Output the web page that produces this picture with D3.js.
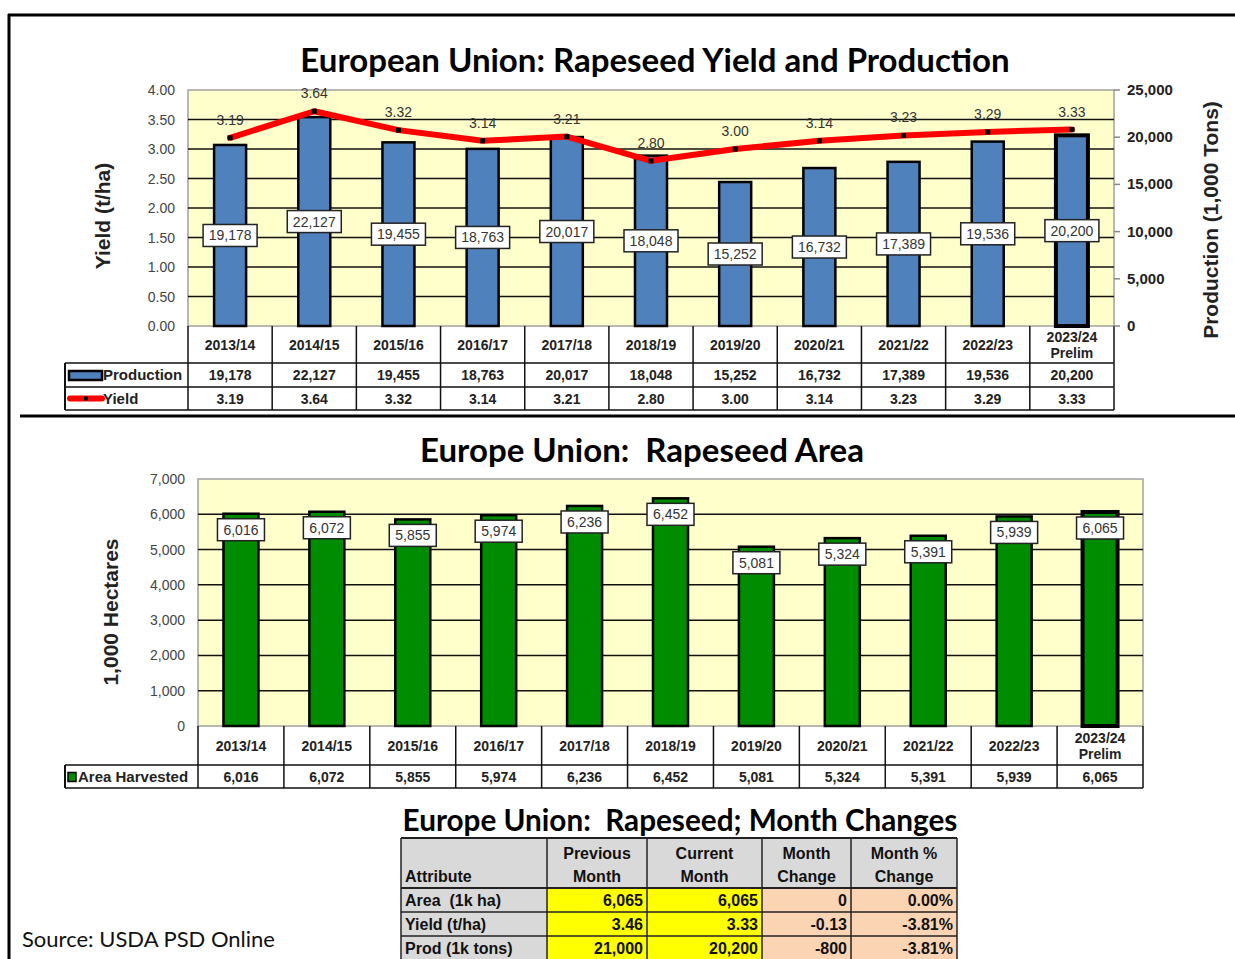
<!DOCTYPE html>
<html>
<head>
<meta charset="utf-8">
<script src="https://cdn.jsdelivr.net/npm/d3@7"></script>
<style>
  body { margin: 0; background: #fff; }
  svg { display: block; }
  text { white-space: pre; }
</style>
</head>
<body>
<div id="chart"></div>
<script>
var seasons = ["2013/14", "2014/15", "2015/16", "2016/17", "2017/18", "2018/19", "2019/20", "2020/21", "2021/22", "2022/23", "2023/24"]
var production = [19178, 22127, 19455, 18763, 20017, 18048, 15252, 16732, 17389, 19536, 20200]
var yieldVals = [3.19, 3.64, 3.32, 3.14, 3.21, 2.80, 3.00, 3.14, 3.23, 3.29, 3.33]
var area = [6016, 6072, 5855, 5974, 6236, 6452, 5081, 5324, 5391, 5939, 6065]
var yieldTicks = [0, 0.5, 1, 1.5, 2, 2.5, 3, 3.5, 4]
var prodTicks = [0, 5000, 10000, 15000, 20000, 25000]
var areaTicks = [0, 1000, 2000, 3000, 4000, 5000, 6000, 7000]

// month changes table
var attributes = ["Area  (1k ha)", "Yield (t/ha)", "Prod (1k tons)"]
var prevMonth = [6065, 3.46, 21000]
var currMonth = [6065, 3.33, 20200]
var monthChange = [0, -0.13, -800]
var monthPct = [0.00, -3.81, -3.81]
var rowFormats = [",", ".2f", ","]

var W = 1235, H = 959
var arial = "'Liberation Sans', Arial, sans-serif"
var calibri = "Lato, 'Open Sans', sans-serif"

var svg = d3.select("#chart").append("svg").attr("width", W).attr("height", H)

function fmt(f, v) { return d3.format(f)(v).replace("\u2212", "-") }

// outer frame + divider
svg.append("line").attr("x1", 8).attr("x2", W).attr("y1", 15).attr("y2", 15).attr("stroke", "#000").attr("stroke-width", 3)
svg.append("line").attr("x1", 9).attr("x2", 9).attr("y1", 14).attr("y2", H).attr("stroke", "#000").attr("stroke-width", 3)
svg.append("line").attr("x1", 20).attr("x2", W).attr("y1", 416).attr("y2", 416).attr("stroke", "#000").attr("stroke-width", 3)

// generic bar chart with data table underneath
function drawChart(opt) {
    var g = svg.append("g")
    var x = d3.scaleBand().domain(seasons).range([opt.left, opt.right])
    var y = d3.scaleLinear().domain(opt.domain).range([opt.bottom, opt.top])

    g.append("text").attr("x", opt.titleX).attr("y", opt.titleY)
        .attr("text-anchor", "middle").style("font-family", calibri).style("font-weight", "bold")
        .style("font-size", opt.titleSize + "px").text(opt.title)

    g.append("rect").attr("x", opt.left).attr("y", opt.top)
        .attr("width", opt.right - opt.left).attr("height", opt.bottom - opt.top)
        .attr("fill", "#FFFFCC").attr("stroke", "#a0a0a0").attr("stroke-width", 1.5)

    // gridlines
    g.selectAll(".grid").data(opt.ticks.filter(function(t) { return t > opt.domain[0] && t < opt.domain[1] }))
        .enter().append("line")
        .attr("x1", opt.left).attr("x2", opt.right)
        .attr("y1", function(d) { return y(d) }).attr("y2", function(d) { return y(d) })
        .attr("stroke", "#111").attr("stroke-width", 1.5)

    // left axis labels
    g.selectAll(".ylab").data(opt.ticks).enter().append("text")
        .attr("x", opt.left - 13).attr("y", function(d) { return y(d) + 5 })
        .attr("text-anchor", "end").style("font-family", arial).style("font-size", "14px")
        .attr("fill", "#444").text(function(d) { return fmt(opt.tickFormat, d) })

    g.append("text").attr("transform", "translate(" + opt.yTitleX + "," + opt.yTitleY + ") rotate(-90)")
        .attr("text-anchor", "middle").style("font-family", arial).style("font-weight", "bold")
        .style("font-size", "21px").attr("fill", "#222").text(opt.yTitle)

    var bw = opt.barWidth
    g.selectAll(".bar").data(opt.values).enter().append("rect")
        .attr("x", function(d, i) { return x(seasons[i]) + x.bandwidth() / 2 - bw / 2 })
        .attr("y", function(d) { return y(opt.toAxis(d)) })
        .attr("width", bw).attr("height", function(d) { return opt.bottom - y(opt.toAxis(d)) })
        .attr("fill", opt.color).attr("stroke", "#000")
        .attr("stroke-width", function(d, i) { return i == seasons.length - 1 ? 4 : 2.5 })

    // value boxes
    var lab = g.selectAll(".lab").data(opt.values).enter().append("g")
        .attr("transform", function(d, i) {
            return "translate(" + (x(seasons[i]) + x.bandwidth() / 2) + "," + opt.labelY(y(opt.toAxis(d))) + ")"
        })
    lab.append("rect").attr("x", -opt.boxW / 2).attr("y", -11).attr("width", opt.boxW).attr("height", 22)
        .attr("fill", "#fff").attr("stroke", "#222").attr("stroke-width", 1.5)
    lab.append("text").attr("y", 5).attr("text-anchor", "middle")
        .style("font-family", arial).style("font-size", "14px").attr("fill", "#333")
        .text(function(d) { return d3.format(",")(d) })

    // data table
    var rowY = opt.rowY
    var cols = seasons.map(function(s) { return x(s) }).concat([opt.right])
    g.selectAll(".vline").data(cols).enter().append("line")
        .attr("x1", function(d) { return d }).attr("x2", function(d) { return d })
        .attr("y1", opt.bottom).attr("y2", rowY[rowY.length - 1])
        .attr("stroke", "#111").attr("stroke-width", 1.5)
    g.append("line").attr("x1", opt.legendLeft).attr("x2", opt.legendLeft)
        .attr("y1", rowY[1]).attr("y2", rowY[rowY.length - 1]).attr("stroke", "#111").attr("stroke-width", 2)
    rowY.slice(1).forEach(function(ry) {
        g.append("line").attr("x1", opt.legendLeft).attr("x2", opt.right)
            .attr("y1", ry).attr("y2", ry).attr("stroke", "#111").attr("stroke-width", 1.5)
    })
    g.selectAll(".cat").data(seasons).enter().append("text")
        .attr("x", function(d) { return x(d) + x.bandwidth() / 2 })
        .attr("y", function(d, i) { return i == seasons.length - 1 ? (rowY[0] + rowY[1]) / 2 - 3 : (rowY[0] + rowY[1]) / 2 + 5 })
        .attr("text-anchor", "middle").style("font-family", arial).style("font-weight", "bold")
        .style("font-size", "14px").attr("fill", "#222").text(function(d) { return d })
    g.append("text").attr("x", x(seasons[10]) + x.bandwidth() / 2).attr("y", (rowY[0] + rowY[1]) / 2 + 13)
        .attr("text-anchor", "middle").style("font-family", arial).style("font-weight", "bold")
        .style("font-size", "14px").attr("fill", "#222").text("Prelim")

    opt.rows.forEach(function(r, k) {
        var cy = (rowY[k + 1] + rowY[k + 2]) / 2 + 5
        g.selectAll(".cell" + k).data(r.values).enter().append("text")
            .attr("x", function(d, i) { return x(seasons[i]) + x.bandwidth() / 2 }).attr("y", cy)
            .attr("text-anchor", "middle").style("font-family", arial).style("font-weight", "bold")
            .style("font-size", "14px").attr("fill", "#222").text(function(d) { return fmt(r.format, d) })
        g.append("text").attr("x", r.textX).attr("y", cy)
            .style("font-family", arial).style("font-weight", "bold")
            .style("font-size", "15px").attr("fill", "#222").text(r.name)
        r.key(g, cy - 5)
    })
    return { g: g, x: x, y: y }
}

// ---- top chart: yield and production
var prodToYield = d3.scaleLinear().domain([0, 25000]).range([0, 4])
var topChart = drawChart({
    title: "European Union: Rapeseed Yield and Production", titleX: 655, titleY: 72, titleSize: 33,
    left: 188, right: 1114, top: 90, bottom: 326,
    domain: [0, 4], ticks: yieldTicks, tickFormat: ".2f",
    yTitle: "Yield (t/ha)", yTitleX: 110, yTitleY: 216,
    values: production, color: "#4F81BD", barWidth: 32, boxW: 54,
    toAxis: prodToYield,
    labelY: function(yTop) { return (yTop + 326) / 2 },
    rowY: [326, 363, 387, 410], legendLeft: 65,
    rows: [
        { name: "Production", values: production, format: ",", textX: 103,
          key: function(g, cy) {
              g.append("rect").attr("x", 69).attr("y", cy - 4).attr("width", 33).attr("height", 9)
                  .attr("fill", "#4F81BD").attr("stroke", "#000").attr("stroke-width", 2.5)
          } },
        { name: "Yield", values: yieldVals, format: ".2f", textX: 103,
          key: function(g, cy) {
              g.append("line").attr("x1", 70).attr("x2", 102).attr("y1", cy).attr("y2", cy)
                  .attr("stroke", "#FF0000").attr("stroke-width", 6).attr("stroke-linecap", "round")
              g.append("rect").attr("x", 84).attr("y", cy - 2).attr("width", 4).attr("height", 4).attr("fill", "#000")
          } }
    ]
})

// right axis
var yR = d3.scaleLinear().domain([0, 25000]).range([326, 90])
topChart.g.selectAll(".rt").data(prodTicks).enter().append("line")
    .attr("x1", 1114).attr("x2", 1120).attr("y1", function(d) { return yR(d) }).attr("y2", function(d) { return yR(d) })
    .attr("stroke", "#888").attr("stroke-width", 1.5)
topChart.g.selectAll(".rl").data(prodTicks).enter().append("text")
    .attr("x", 1127).attr("y", function(d) { return yR(d) + 5 })
    .style("font-family", arial).style("font-weight", "bold").style("font-size", "15px").attr("fill", "#222")
    .text(function(d) { return d3.format(",")(d) })
topChart.g.append("text").attr("transform", "translate(1218,220) rotate(-90)")
    .attr("text-anchor", "middle").style("font-family", arial).style("font-weight", "bold")
    .style("font-size", "21px").attr("fill", "#222").text("Production (1,000 Tons)")

// yield line
var cx = function(i) { return topChart.x(seasons[i]) + topChart.x.bandwidth() / 2 }
topChart.g.append("path").datum(yieldVals)
    .attr("d", d3.line().x(function(d, i) { return cx(i) }).y(function(d) { return topChart.y(d) }))
    .attr("fill", "none").attr("stroke", "#FF0000").attr("stroke-width", 6)
    .attr("stroke-linejoin", "round").attr("stroke-linecap", "round")
topChart.g.selectAll(".ym").data(yieldVals).enter().append("rect")
    .attr("x", function(d, i) { return cx(i) - 2.5 }).attr("y", function(d) { return topChart.y(d) - 2.5 })
    .attr("width", 5).attr("height", 5).attr("fill", "#000")
topChart.g.selectAll(".yl").data(yieldVals).enter().append("text")
    .attr("x", function(d, i) { return cx(i) }).attr("y", function(d) { return topChart.y(d) - 13 })
    .attr("text-anchor", "middle").style("font-family", arial).style("font-size", "14px").attr("fill", "#333")
    .text(function(d) { return d3.format(".2f")(d) })

// ---- bottom chart: area
drawChart({
    title: "Europe Union:  Rapeseed Area", titleX: 642, titleY: 462, titleSize: 33,
    left: 198, right: 1143, top: 479, bottom: 726,
    domain: [0, 7000], ticks: areaTicks, tickFormat: ",",
    yTitle: "1,000 Hectares", yTitleX: 118, yTitleY: 612,
    values: area, color: "#008C00", barWidth: 35, boxW: 47,
    toAxis: function(d) { return d },
    labelY: function(yTop) { return yTop + 16 },
    rowY: [726, 765, 788], legendLeft: 65,
    rows: [
        { name: "Area Harvested", values: area, format: ",", textX: 78,
          key: function(g, cy) {
              g.append("rect").attr("x", 68).attr("y", cy - 4).attr("width", 8).attr("height", 9)
                  .attr("fill", "#008C00").attr("stroke", "#000").attr("stroke-width", 1.5)
          } }
    ]
})

// ---- month changes table
svg.append("text").attr("x", 680).attr("y", 831).attr("text-anchor", "middle")
    .style("font-family", calibri).style("font-weight", "bold").style("font-size", "29.7px")
    .text("Europe Union:  Rapeseed; Month Changes")

var colX = [401, 547, 647, 762, 851, 957]
var rowTop = [888, 912, 936, 960]
var tg = svg.append("g").style("font-family", arial).style("font-weight", "bold").style("font-size", "16px")

tg.append("rect").attr("x", colX[0]).attr("y", 838).attr("width", colX[5] - colX[0]).attr("height", 50).attr("fill", "#D9D9D9")
var headers = [["", "Attribute"], ["Previous", "Month"], ["Current", "Month"], ["Month", "Change"], ["Month %", "Change"]]
headers.forEach(function(h, c) {
    var mid = (colX[c] + colX[c + 1]) / 2
    h.forEach(function(t, k) {
        tg.append("text").attr("x", c == 0 ? colX[0] + 4 : mid).attr("y", 859 + k * 23)
            .attr("text-anchor", c == 0 ? "start" : "middle").attr("fill", "#111").text(t)
    })
})
var cellCols = [prevMonth, currMonth, monthChange, monthPct]
var fills = ["#FFFF00", "#FFFF00", "#FBD4B4", "#FBD4B4"]
attributes.forEach(function(a, r) {
    var y0 = rowTop[r], h = rowTop[r + 1] - y0
    tg.append("rect").attr("x", colX[0]).attr("y", y0).attr("width", colX[1] - colX[0]).attr("height", h).attr("fill", "#D9D9D9")
    tg.append("text").attr("x", colX[0] + 4).attr("y", y0 + 18).attr("fill", "#111").text(a)
    cellCols.forEach(function(col, c) {
        tg.append("rect").attr("x", colX[c + 1]).attr("y", y0).attr("width", colX[c + 2] - colX[c + 1]).attr("height", h).attr("fill", fills[c])
        var txt = c == 3 ? fmt(".2f", col[r]) + "%" : fmt(rowFormats[r], col[r])
        tg.append("text").attr("x", colX[c + 2] - 4).attr("y", y0 + 18).attr("text-anchor", "end").attr("fill", "#111").text(txt)
    })
})
// grid lines of table
colX.forEach(function(cxp) {
    tg.append("line").attr("x1", cxp).attr("x2", cxp).attr("y1", 838).attr("y2", 960).attr("stroke", "#222").attr("stroke-width", 1.5)
})
;[838, 888, 912, 936].forEach(function(ry, i) {
    tg.append("line").attr("x1", colX[0]).attr("x2", colX[5]).attr("y1", ry).attr("y2", ry)
        .attr("stroke", "#222").attr("stroke-width", i < 2 ? 2 : 1.5)
})

svg.append("text").attr("x", 22).attr("y", 947).style("font-family", calibri).style("font-size", "22px")
    .attr("fill", "#111").text("Source: USDA PSD Online")
</script>
</body>
</html>
